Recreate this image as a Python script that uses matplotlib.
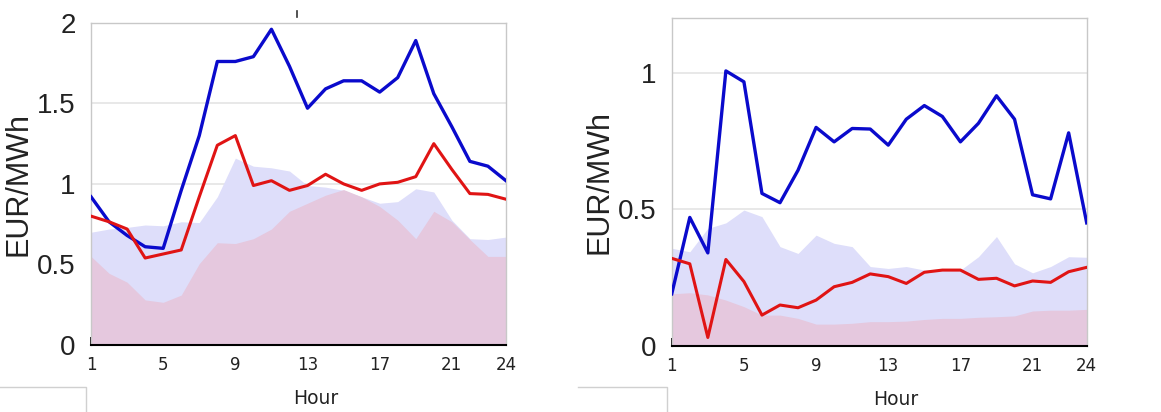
import numpy as np
import matplotlib
matplotlib.use("Agg")
import matplotlib.pyplot as plt
from matplotlib.lines import Line2D

hours = np.arange(1, 25)

# Panel izquierdo
left_blue = [0.92, 0.765, 0.68, 0.61, 0.60, 0.96, 1.30, 1.76, 1.76, 1.79, 1.96, 1.73,
             1.47, 1.59, 1.64, 1.64, 1.57, 1.66, 1.89, 1.56, 1.355, 1.14, 1.11, 1.02]
left_red = [0.80, 0.765, 0.72, 0.54, 0.565, 0.59, 0.92, 1.24, 1.30, 0.99, 1.02, 0.96,
            0.99, 1.06, 1.00, 0.96, 1.00, 1.01, 1.045, 1.25, 1.09, 0.94, 0.935, 0.905]
left_band_blue = [0.70, 0.72, 0.73, 0.745, 0.74, 0.765, 0.76, 0.92, 1.16, 1.11, 1.10, 1.08,
                  0.99, 0.98, 0.96, 0.92, 0.88, 0.89, 0.97, 0.95, 0.775, 0.66, 0.655, 0.67]
left_band_red = [0.55, 0.445, 0.39, 0.28, 0.265, 0.31, 0.505, 0.635, 0.63, 0.66, 0.72, 0.83,
                 0.88, 0.93, 0.965, 0.92, 0.86, 0.775, 0.66, 0.83, 0.765, 0.655, 0.55, 0.55]

# Panel derecho
right_blue = [0.19, 0.47, 0.34, 1.007, 0.967, 0.558, 0.524, 0.643, 0.80, 0.747, 0.796, 0.794,
              0.735, 0.83, 0.88, 0.84, 0.747, 0.815, 0.916, 0.83, 0.553, 0.538, 0.78, 0.45]
right_red = [0.32, 0.30, 0.03, 0.316, 0.235, 0.112, 0.149, 0.139, 0.167, 0.216, 0.232, 0.263,
             0.253, 0.228, 0.269, 0.277, 0.277, 0.243, 0.247, 0.219, 0.237, 0.232, 0.271, 0.287]
right_band_blue = [0.357, 0.344, 0.43, 0.45, 0.497, 0.473, 0.363, 0.338, 0.405, 0.375, 0.363, 0.29,
                   0.283, 0.29, 0.277, 0.277, 0.277, 0.326, 0.40, 0.30, 0.267, 0.29, 0.326, 0.324]
right_band_red = [0.19, 0.194, 0.186, 0.167, 0.143, 0.112, 0.112, 0.10, 0.079, 0.079, 0.082, 0.088,
                  0.088, 0.09, 0.096, 0.10, 0.10, 0.104, 0.106, 0.109, 0.127, 0.13, 0.13, 0.133]

xtick_vals = [1, 5, 9, 13, 17, 21, 24]

fig = plt.figure(figsize=(11.61, 4.12), dpi=100)
ax1 = fig.add_axes([0.0784, 0.1626, 0.3574, 0.782])
ax2 = fig.add_axes([0.5786, 0.161, 0.3574, 0.7947])


def draw_panel(ax, blue, red, band_b, band_r, ymax, yticks, yticklabels):
    ax.fill_between(hours, 0, band_b, color='#dedefa', lw=0, zorder=1)
    ax.fill_between(hours, 0, band_r, color='#e5c8de', lw=0, zorder=2)
    ax.plot(hours, blue, color='#0a0acc', lw=2.4, zorder=4)
    ax.plot(hours, red, color='#e01414', lw=2.2, zorder=4)
    ax.set_xlim(1, 24)
    ax.set_ylim(0, ymax)
    ax.set_yticks(yticks)
    ax.set_yticklabels(yticklabels, fontsize=20, color='#222222', family='Liberation Sans')
    ax.tick_params(axis='y', length=0, pad=11)
    ax.set_xticks(xtick_vals)
    ax.set_xticks(hours, minor=True)
    ax.set_xticklabels([str(v) for v in xtick_vals], fontsize=12, color='#222222')
    ax.tick_params(axis='x', which='both', direction='in', length=6, width=1.3,
                   color='black', pad=8)
    ax.yaxis.grid(True, color='#e4e4e4', lw=1.2, zorder=0)
    ax.set_axisbelow(True)
    for s in ['top', 'left', 'right']:
        ax.spines[s].set_color('#c8c8c8')
        ax.spines[s].set_linewidth(1)
    ax.spines['bottom'].set_color('black')
    ax.spines['bottom'].set_linewidth(1.5)
    ax.spines['bottom'].set_zorder(5)
    ax.set_xlabel('Hour', fontsize=13.5, color='#222222', labelpad=11, x=0.541)
    ax.set_ylabel('EUR/MWh', fontsize=22, color='#222222', family='Liberation Sans')
    ax.yaxis.set_label_coords(-0.138, 0.5)


draw_panel(ax1, left_blue, left_red, left_band_blue, left_band_red, 2,
           [0, 0.5, 1, 1.5, 2], ['0', '0.5', '1', '1.5', '2'])
draw_panel(ax2, right_blue, right_red, right_band_blue, right_band_red, 1.2,
           [0, 0.5, 1], ['0', '0.5', '1'])

# restos grises de la imagen original (cajas abajo a la izquierda y marca arriba)
W, H = 1161, 412
for x0, x1 in [(0, 86), (578, 667)]:
    fig.add_artist(Line2D([x0 / W, x1 / W, x1 / W], [1 - 387 / H, 1 - 387 / H, 0],
                          color='#d0d0d0', lw=1))
fig.add_artist(Line2D([297 / W, 297 / W], [1 - 11 / H, 1 - 17 / H], color='#333333', lw=1.2))

plt.savefig('out.png', dpi=100)
